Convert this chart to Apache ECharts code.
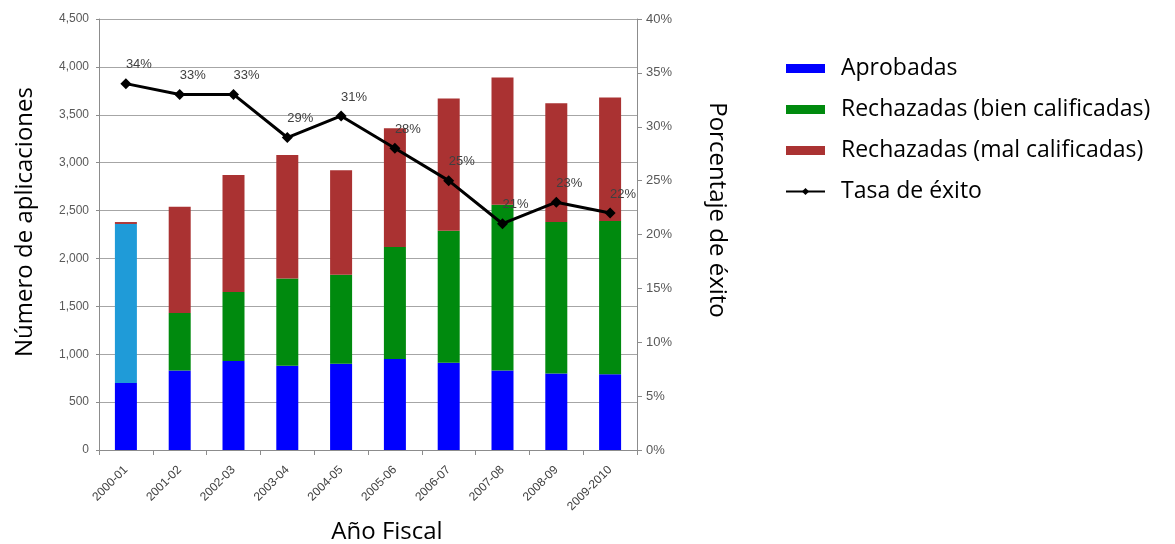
<!DOCTYPE html>
<html>
<head>
<meta charset="utf-8">
<script src="https://cdn.jsdelivr.net/npm/echarts@6/dist/echarts.min.js"></script>
<style>html,body{margin:0;padding:0;background:#fff;}#c{width:1175px;height:544px;}</style>
</head>
<body>
<div id="c"></div>
<script>
var categories = ['2000-01','2001-02','2002-03','2003-04','2004-05','2005-06','2006-07','2007-08','2008-09','2009-2010'];
var aprobadas = [700, 830, 930, 880, 900, 950, 910, 830, 800, 790];
var rechBien = [1660, 600, 720, 910, 930, 1170, 1380, 1730, 1580, 1600];
var rechMal = [20, 1110, 1220, 1290, 1090, 1240, 1380, 1330, 1240, 1290];
var tasaExito = [0.34, 0.33, 0.33, 0.29, 0.31, 0.28, 0.25, 0.21, 0.23, 0.22];
var leftTicks = [0, 500, 1000, 1500, 2000, 2500, 3000, 3500, 4000, 4500];
var rightTicks = [0, 0.05, 0.10, 0.15, 0.20, 0.25, 0.30, 0.35, 0.40];

var chart = echarts.init(document.getElementById('c'));
var titleFont = '"Open Sans", sans-serif';
var tickFont = '"Liberation Sans", Arial, sans-serif';

var bienData = rechBien.map(function (v, i) {
  return i === 0 ? { value: v, itemStyle: { color: '#1F9BD8' } } : v;
});

chart.setOption({
  animation: false,
  backgroundColor: '#ffffff',
  grid: { left: 99, right: 538, top: 19, bottom: 94 },
  legend: {
    orient: 'vertical',
    left: 785,
    top: 57,
    padding: 0,
    itemWidth: 39,
    itemHeight: 9,
    itemGap: 18,
    textStyle: { fontFamily: titleFont, fontSize: 23, color: '#000', padding: [0, 0, 0, 11] },
    data: [
      { name: 'Aprobadas', icon: 'rect' },
      { name: 'Rechazadas (bien calificadas)', icon: 'rect' },
      { name: 'Rechazadas (mal calificadas)', icon: 'rect' },
      { name: 'Tasa de éxito' }
    ]
  },
  xAxis: {
    type: 'category',
    data: categories,
    boundaryGap: true,
    axisLine: { lineStyle: { color: '#8C8C8C', width: 1 } },
    axisTick: { show: true, alignWithLabel: false, length: 5, lineStyle: { color: '#8C8C8C' } },
    axisLabel: { rotate: 45, fontFamily: tickFont, fontSize: 12, color: '#404040', interval: 0, margin: 18 }
  },
  yAxis: [
    {
      type: 'value', min: 0, max: 4500, interval: 500,
      axisLine: { show: true, lineStyle: { color: '#8C8C8C' } },
      axisTick: { show: true, length: 3, lineStyle: { color: '#8C8C8C' } },
      splitLine: { show: true, lineStyle: { color: '#A6A6A6', width: 1 } },
      axisLabel: {
        fontFamily: tickFont, fontSize: 12, color: '#595959', margin: 10,
        formatter: function (v) { return leftTicks.indexOf(v) >= 0 ? v.toLocaleString('en-US') : ''; }
      }
    },
    {
      type: 'value', min: 0, max: 0.4, interval: 0.05, position: 'right',
      axisLine: { show: true, lineStyle: { color: '#8C8C8C' } },
      axisTick: { show: true, length: 5, lineStyle: { color: '#8C8C8C' } },
      splitLine: { show: false },
      axisLabel: {
        fontFamily: tickFont, fontSize: 13, color: '#595959', margin: 9,
        formatter: function (v) { return Math.round(v * 100) + '%'; }
      }
    }
  ],
  series: [
    {
      name: 'Aprobadas', type: 'bar', stack: 'a', barWidth: 22,
      itemStyle: { color: '#0000FF' }, data: aprobadas
    },
    {
      name: 'Rechazadas (bien calificadas)', type: 'bar', stack: 'a', barWidth: 22,
      itemStyle: { color: '#008A0E' }, data: bienData
    },
    {
      name: 'Rechazadas (mal calificadas)', type: 'bar', stack: 'a', barWidth: 22,
      itemStyle: { color: '#AA3232' }, data: rechMal
    },
    {
      name: 'Tasa de éxito', type: 'line', yAxisIndex: 1,
      symbol: 'diamond', symbolSize: 11,
      lineStyle: { color: '#000', width: 3 },
      itemStyle: { color: '#000' },
      label: {
        show: true, position: 'top', distance: 7, offset: [13, 0],
        fontFamily: tickFont, fontSize: 13, color: '#404040',
        formatter: function (p) { return Math.round(p.value * 100) + '%'; }
      },
      data: tasaExito
    }
  ],
  graphic: [
    {
      type: 'text', x: 25, y: 222, rotation: Math.PI / 2,
      style: { text: 'Número de aplicaciones', fontFamily: titleFont, fontSize: 24, fill: '#000', textAlign: 'center', textVerticalAlign: 'middle' }
    },
    {
      type: 'text', x: 717, y: 210, rotation: -Math.PI / 2,
      style: { text: 'Porcentaje de éxito', fontFamily: titleFont, fontSize: 24, fill: '#000', textAlign: 'center', textVerticalAlign: 'middle' }
    },
    {
      type: 'text', x: 387, y: 532,
      style: { text: 'Año Fiscal', fontFamily: titleFont, fontSize: 24, fill: '#000', textAlign: 'center', textVerticalAlign: 'middle' }
    }
  ]
});
</script>
</body>
</html>
